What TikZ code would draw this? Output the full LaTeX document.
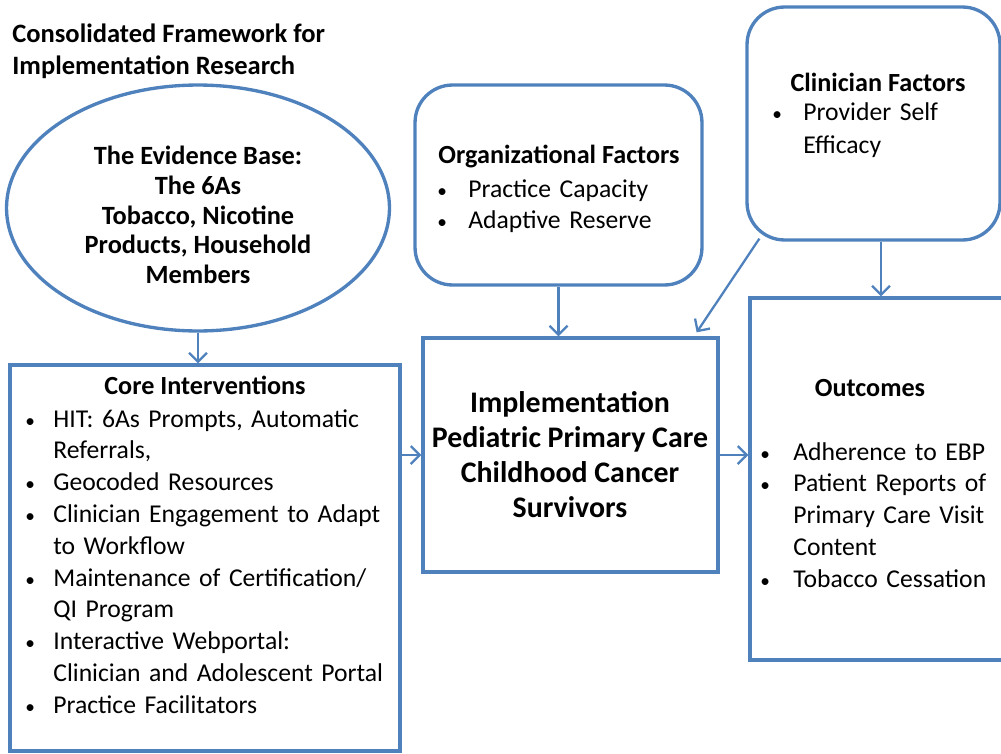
\documentclass[tikz,border=0pt]{standalone}
\usepackage{fontspec}
\setmainfont{Carlito}
\definecolor{CfirBlue}{RGB}{79,129,189}
\usetikzlibrary{
    shapes.geometric,
    arrows.meta,
    calc,
}
\newenvironment{cfirlist}[1]{%
  \begin{list}{{\fontsize{11}{11}\selectfont\textbullet}}{%
    \setlength{\leftmargin}{#1}%
    \setlength{\labelsep}{0pt}%
    \setlength{\labelwidth}{#1}%
    \setlength{\itemsep}{0pt}\setlength{\parsep}{0pt}%
    \setlength{\topsep}{0pt}\setlength{\partopsep}{0pt}%
    \renewcommand{\makelabel}[1]{##1\hfil}}}%
  {\end{list}}

\begin{document}
\begin{tikzpicture}[x=0.02cm, y=-0.02cm,
    box/.style={draw=CfirBlue, line width=1.9pt, inner sep=0pt},
    softbox/.style={box, rounded corners=0.75cm},
    link/.style={draw=CfirBlue, line width=1.3pt, -{Straight Barb[length=1.8mm, width=3.6mm]}},
    head/.style={font=\bfseries\fontsize{14.9}{18.1}\selectfont, inner sep=0pt},
    body/.style={font=\fontsize{14.6}{18.1}\selectfont, inner sep=0pt, anchor=north west, align=left},
]
        \path[use as bounding box, clip] (0,0) rectangle (1001,754);

        \node[head, anchor=west, align=left, font=\bfseries\fontsize{15.1}{18.2}\selectfont] (title) at (12,51) {Consolidated Framework for\\Implementation Research};

        % evidence base
        \node[ellipse, box, minimum width=7.66cm, minimum height=4.92cm] (evid) at (198,208) {};
        \node[head, align=center, font=\bfseries\fontsize{15}{16.9}\selectfont] (evidtext) at (198,215) {The Evidence Base:\\The 6As\\Tobacco, Nicotine\\Products, Household\\Members};

        % factors
        \node[softbox, minimum width=5.74cm, minimum height=4cm] (org) at (558.5,185) {};
        \node[head] (orghead) at (559,157) {Organizational Factors};
        \node[body, text width=5cm] (orglist) at (437,165) {\begin{cfirlist}{0.62cm}\item Practice Capacity \item Adaptive Reserve\end{cfirlist}};

        \node[softbox, minimum width=5.06cm, minimum height=4.66cm] (clin) at (873.5,123.5) {};
        \node[head] (clinhead) at (878,82) {Clinician Factors};
        \node[body, text width=4.2cm, font=\fontsize{14.6}{18.8}\selectfont] (clinlist) at (772,87) {\begin{cfirlist}{0.62cm}\item Provider Self\newline Efficacy\end{cfirlist}};

        % core interventions
        \node[box, minimum width=7.8cm, minimum height=7.72cm] (core) at (205,558) {};
        \node[head] (corehead) at (205,385) {Core Interventions};
        \node[body, text width=7.6cm] (corelist) at (25,395) {\begin{cfirlist}{0.56cm}
            \item HIT: 6As Prompts, Automatic\newline Referrals,
            \item Geocoded Resources
            \item Clinician Engagement to Adapt\newline to Workflow
            \item Maintenance of Certification/\newline QI Program
            \item Interactive Webportal:\newline Clinician and Adolescent Portal
            \item Practice Facilitators
        \end{cfirlist}};

        % implementation
        \node[box, minimum width=5.9cm, minimum height=4.68cm] (impl) at (570.5,455) {};
        \node[head, align=center, font=\bfseries\fontsize{17}{19.9}\selectfont] (impltext) at (570,455) {Implementation\\Pediatric Primary Care\\Childhood Cancer\\Survivors};

        % outcomes
        \node[box, minimum width=5.24cm, minimum height=7.24cm] (outc) at (881,479) {};
        \node[head] (outchead) at (870,388) {Outcomes};
        \node[body, text width=5cm] (outclist) at (760,428) {\begin{cfirlist}{0.66cm}\item Adherence to EBP \item Patient Reports of\newline Primary Care Visit\newline Content \item Tobacco Cessation\end{cfirlist}};

        \draw[link] (evid.south) -- (evid.south |- core.north);
        \draw[link] (org.south) -- (org.south |- impl.north);
        \draw[link] ($(clin.south west)+(14,-3)$) -- ($(impl.north east)+(-23,-4)$);
        \draw[link] (outc.north |- clin.south) -- (outc.north);
        \draw[link] (core.east |- impl.center) -- (impl.west);
        \draw[link] (impl.east) -- (impl.east -| outc.west);
    \end{tikzpicture}
\end{document}
